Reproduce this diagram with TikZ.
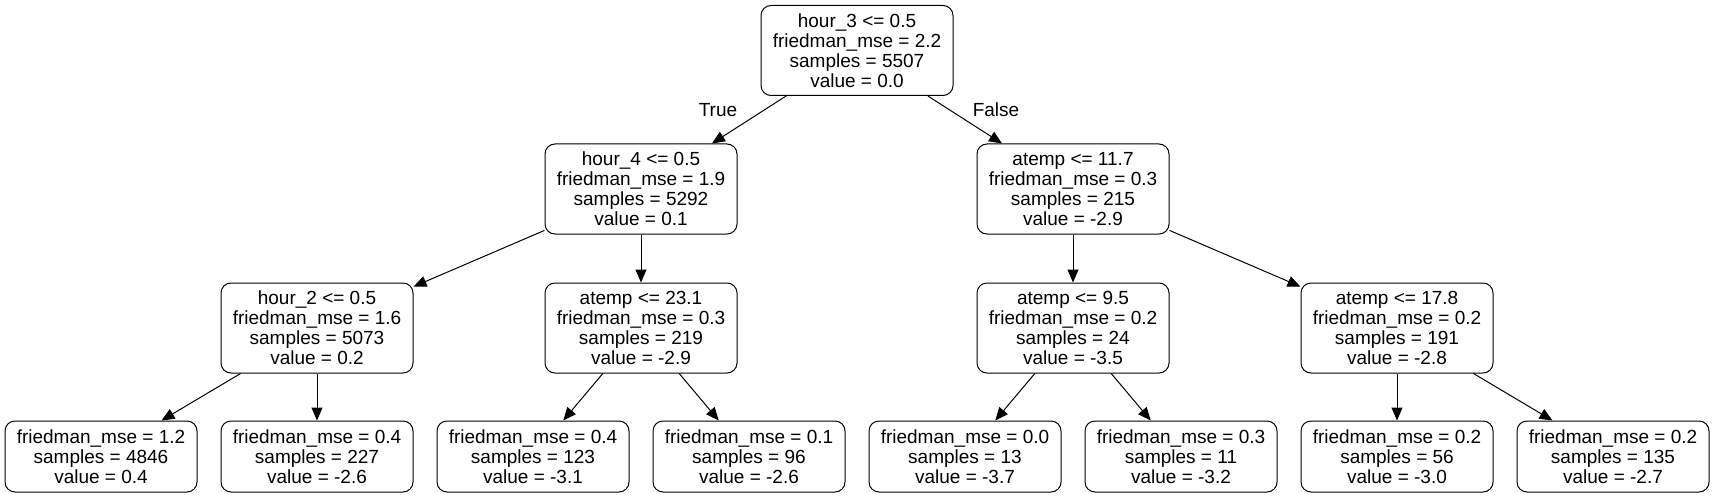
\documentclass[tikz,border=0pt]{standalone}
\usepackage{fontspec}
\setmainfont{Liberation Sans}
\usetikzlibrary{arrows.meta}
\tikzset{
  split/.style={draw, rectangle, rounded corners=10pt, line width=1pt, minimum width=192pt, minimum height=90pt, align=center, inner sep=0pt, font=\fontsize{19}{20}\selectfont},
  leaf/.style={split, minimum height=71pt},
  edge/.style={line width=1pt, -{Triangle[length=13pt,width=11pt]}},
  lbl/.style={font=\fontsize{19}{20}\selectfont}
}
\begin{document}
\begin{tikzpicture}[x=1pt,y=-1pt]
    \useasboundingbox (0,0) rectangle (1715,497);
    % root
    \node[split] (root) at (857,50.5) {hour\_3 <= 0.5\\friedman\_mse = 2.2\\samples = 5507\\value = 0.0};
    % depth 1
    \node[split] (hfour) at (641,189) {hour\_4 <= 0.5\\friedman\_mse = 1.9\\samples = 5292\\value = 0.1};
    \node[split] (atA) at (1073,189) {atemp <= 11.7\\friedman\_mse = 0.3\\samples = 215\\value = -2.9};
    % depth 2
    \node[split] (htwo) at (317,328) {hour\_2 <= 0.5\\friedman\_mse = 1.6\\samples = 5073\\value = 0.2};
    \node[split] (atB) at (641,328) {atemp <= 23.1\\friedman\_mse = 0.3\\samples = 219\\value = -2.9};
    \node[split] (atC) at (1073,328) {atemp <= 9.5\\friedman\_mse = 0.2\\samples = 24\\value = -3.5};
    \node[split] (atD) at (1397,328) {atemp <= 17.8\\friedman\_mse = 0.2\\samples = 191\\value = -2.8};
    % leaves
    \node[leaf] (lfa) at (101,456.5) {friedman\_mse = 1.2\\samples = 4846\\value = 0.4};
    \node[leaf] (lfb) at (317,456.5) {friedman\_mse = 0.4\\samples = 227\\value = -2.6};
    \node[leaf] (lfc) at (533,456.5) {friedman\_mse = 0.4\\samples = 123\\value = -3.1};
    \node[leaf] (lfd) at (749,456.5) {friedman\_mse = 0.1\\samples = 96\\value = -2.6};
    \node[leaf] (lfe) at (965,456.5) {friedman\_mse = 0.0\\samples = 13\\value = -3.7};
    \node[leaf] (lff) at (1181,456.5) {friedman\_mse = 0.3\\samples = 11\\value = -3.2};
    \node[leaf] (lfg) at (1397,456.5) {friedman\_mse = 0.2\\samples = 56\\value = -3.0};
    \node[leaf] (lfh) at (1613,456.5) {friedman\_mse = 0.2\\samples = 135\\value = -2.7};

    \node[lbl] (ltrue) at (718,110) {True};
    \node[lbl] (lfalse) at (996,110) {False};

    \draw[edge] (root) -- (hfour);
    \draw[edge] (root) -- (atA);
    \draw[edge] (hfour) -- (htwo);
    \draw[edge] (hfour) -- (atB);
    \draw[edge] (atA) -- (atC);
    \draw[edge] (atA) -- (atD);
    \draw[edge] (htwo) -- (lfa);
    \draw[edge] (htwo) -- (lfb);
    \draw[edge] (atB) -- (lfc);
    \draw[edge] (atB) -- (lfd);
    \draw[edge] (atC) -- (lfe);
    \draw[edge] (atC) -- (lff);
    \draw[edge] (atD) -- (lfg);
    \draw[edge] (atD) -- (lfh);
\end{tikzpicture}
\end{document}
